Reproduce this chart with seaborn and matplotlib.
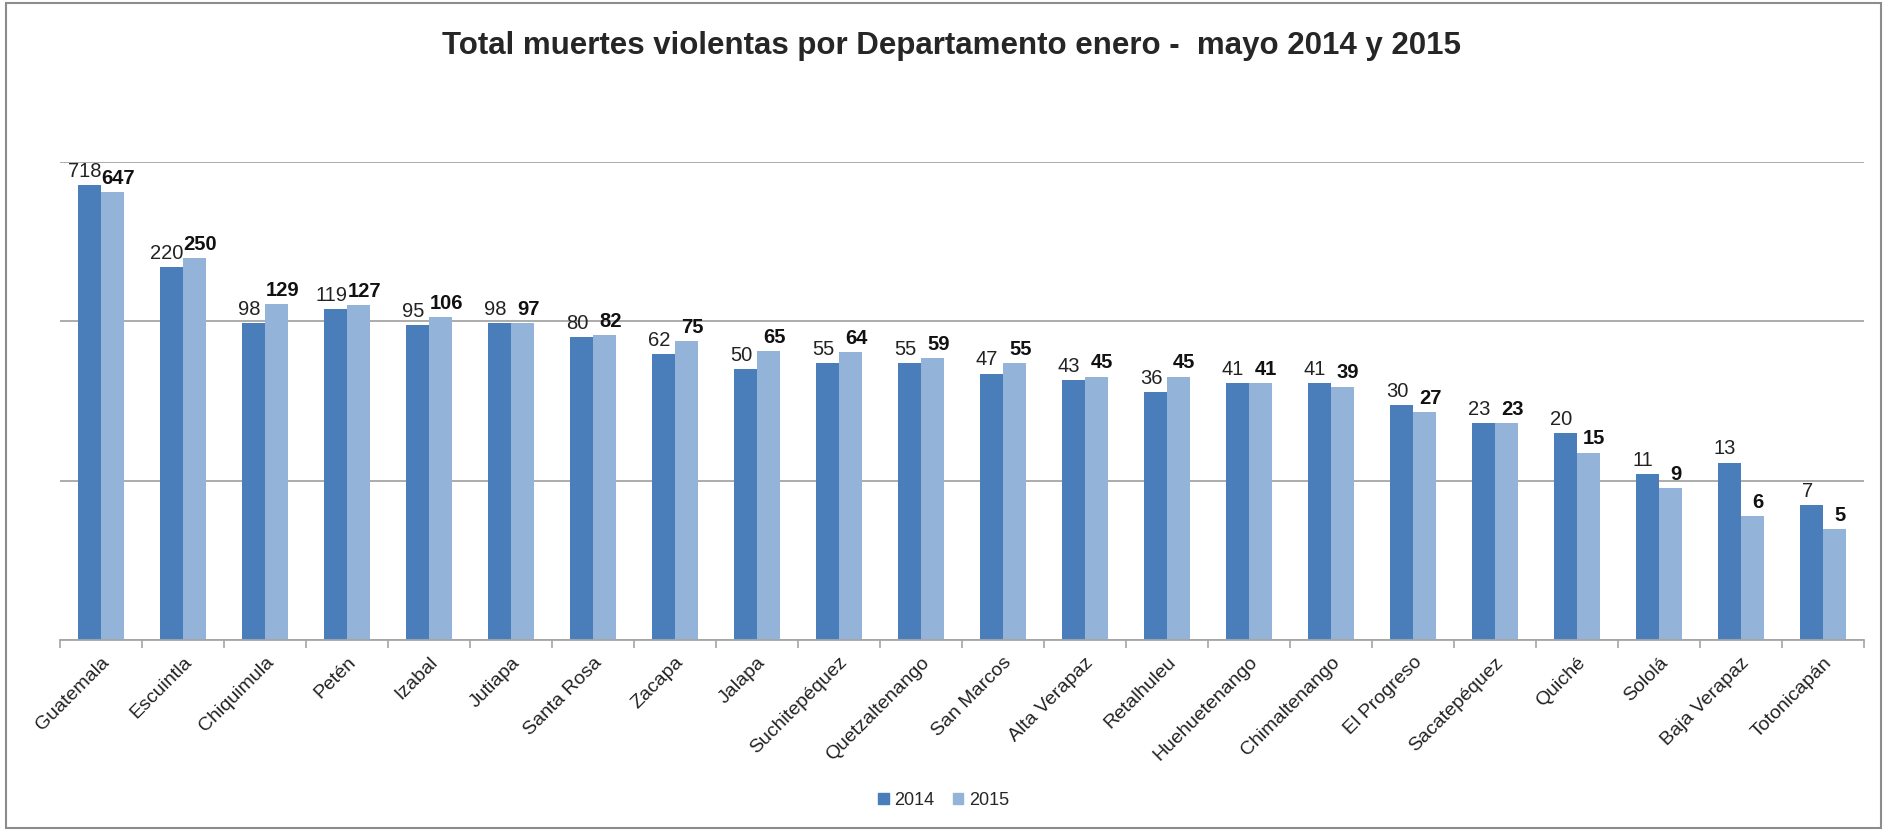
import pandas as pd
import matplotlib
matplotlib.use("Agg")
import matplotlib.pyplot as plt
import seaborn as sns
from matplotlib.patches import Rectangle

departamentos = [
    "Guatemala", "Escuintla", "Chiquimula", "Petén", "Izabal", "Jutiapa",
    "Santa Rosa", "Zacapa", "Jalapa", "Suchitepéquez", "Quetzaltenango",
    "San Marcos", "Alta Verapaz", "Retalhuleu", "Huehuetenango",
    "Chimaltenango", "El Progreso", "Sacatepéquez", "Quiché", "Sololá",
    "Baja Verapaz", "Totonicapán",
]
muertes_2014 = [718, 220, 98, 119, 95, 98, 80, 62, 50, 55, 55, 47, 43, 36, 41, 41, 30, 23, 20, 11, 13, 7]
muertes_2015 = [647, 250, 129, 127, 106, 97, 82, 75, 65, 64, 59, 55, 45, 45, 41, 39, 27, 23, 15, 9, 6, 5]
years = ["2014", "2015"]
colors = {"2014": "#4A7EBB", "2015": "#94B3D9"}

df = pd.DataFrame({
    "Departamento": departamentos * 2,
    "Año": [years[0]] * len(departamentos) + [years[1]] * len(departamentos),
    "Total": muertes_2014 + muertes_2015,
})

sns.set_style("white")
plt.rcParams["font.family"] = ["Liberation Sans", "DejaVu Sans"]

fig = plt.figure(figsize=(18.87, 8.31), dpi=100)
ax = fig.add_axes([0.0318, 0.2298, 0.956, 0.5752])
ax.set_yscale("log")

sns.barplot(data=df, x="Departamento", y="Total", hue="Año", palette=colors,
            width=0.57, saturation=1, linewidth=0, ax=ax, legend=False)

ax.set_ylim(1, 1000)
ax.set_xlim(-0.5, len(departamentos) - 0.5)
ax.yaxis.grid(True, which="major", color="#A6A6A6", linewidth=1.3)
ax.set_axisbelow(True)
ax.set_yticklabels([])
ax.tick_params(axis="y", which="both", length=0)
for s in ["top", "right", "left"]:
    ax.spines[s].set_visible(False)
ax.spines["bottom"].set_color("#A6A6A6")
ax.spines["bottom"].set_linewidth(1.3)

# ticks between categories, labels centred
ax.set_xticks(range(len(departamentos)))
ax.set_xticklabels(departamentos, rotation=45, ha="right", rotation_mode="anchor",
                   fontsize=14, color="#222222")
ax.tick_params(axis="x", which="major", length=0, pad=10)
ax.set_xticks([i - 0.5 for i in range(len(departamentos) + 1)], minor=True)
ax.tick_params(axis="x", which="minor", length=6, color="#A6A6A6", width=1.2, bottom=True)
ax.set_xlabel("")
ax.set_ylabel("")

# value labels: 2014 plain nudged left, 2015 bold nudged right
labels_2014 = ax.bar_label(ax.containers[0], fontsize=14.5, color="#222222", padding=3)
labels_2015 = ax.bar_label(ax.containers[1], fontsize=14.5, color="#111111",
                           fontweight="bold", padding=3)
for t in labels_2014:
    t.xyann = (-3, 3)
for t in labels_2015:
    t.xyann = (4, 3)

fig.text(0.504, 0.945, "Total muertes violentas por Departamento enero -  mayo 2014 y 2015",
         ha="center", va="center", fontsize=22.5, fontweight="bold")

handles = [Rectangle((0, 0), 1, 1, color=colors[y]) for y in years]
fig.legend(handles, years, loc="center", bbox_to_anchor=(0.5, 0.037), ncol=2,
           frameon=False, fontsize=13, handlelength=0.6, handleheight=0.6,
           handletextpad=0.3, columnspacing=1.0)

fig.patches.append(Rectangle((0.003, 0.004), 0.994, 0.992, transform=fig.transFigure,
                             fill=False, edgecolor="#8C8C8C", linewidth=1.5))

fig.savefig("out.png", dpi=100, facecolor="white")
